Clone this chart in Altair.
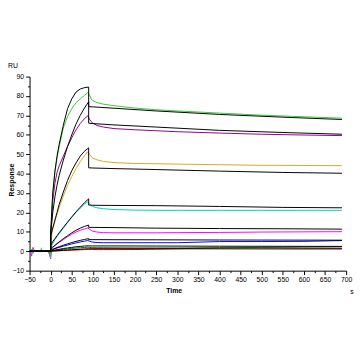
import altair as alt
import pandas as pd

# ---- time grids ----
T_FIT = [-50, 0, 0, 5, 10, 15, 20, 30, 40, 50, 60, 70, 80, 90, 90, 100, 150, 250, 400, 550, 690]
T_MEAS = [-48, -45, -42, -38, -24, -22, -20, -5, 0, 1, 3, 5, 10, 15, 20, 30, 40, 50, 60, 70, 80, 88,
          92, 96, 100, 110, 125, 150, 200, 250, 300, 400, 500, 600, 690]

# ---- fitted curves (black) ----
K1 = [0, 0, 10, 30, 41, 49, 55, 65, 73.5, 78.5, 82, 83.6, 84.3, 84.6, 74.5, 74.4, 73.7, 72.3, 70.5, 69.1, 67.9]
K2 = [0, 0, 10, 20, 28, 34, 39, 47, 54, 60, 65.5, 70, 73.8, 77, 66, 65.8, 65.1, 64, 62.3, 61.2, 60.3]
K3 = [0, 0, 8, 12, 16, 20, 24, 30.5, 36.5, 41.5, 45.5, 49, 51.5, 53.3, 43, 42.9, 42.6, 42.1, 41.3, 40.6, 40.2]
K4 = [0, 0, 3, 5, 6.5, 8, 9.5, 12.3, 15, 17.7, 20.3, 22.7, 25, 27, 23.8, 23.7, 23.6, 23.5, 23.1, 22.6, 22.4]
K5 = [0, 0, 1.2, 2.2, 3, 4, 4.8, 6.5, 8, 9.5, 10.8, 11.9, 12.8, 13.5, 12.3, 12.3, 12.2, 11.9, 11.7, 11.6, 11.4]
K6 = [0, 0, 0.5, 1, 1.5, 1.9, 2.3, 3.1, 3.8, 4.5, 5.1, 5.6, 6.1, 6.5, 6.0, 6.0, 5.95, 5.9, 5.8, 5.75, 5.7]
K7 = [0, 0, 0.2, 0.4, 0.6, 0.8, 1.0, 1.4, 1.7, 2.0, 2.3, 2.5, 2.7, 2.8, 2.75, 2.75, 2.75, 2.7, 2.6, 2.55, 2.5]
K8 = [0, 0, 0.1, 0.15, 0.2, 0.25, 0.3, 0.5, 0.65, 0.8, 0.9, 1.05, 1.2, 1.3, 1.3, 1.3, 1.3, 1.3, 1.25, 1.2, 1.2]

# ---- measured curves (coloured) ----
M_RED = [0, 0, 0, 0, 0, 0, 0, 0, 0, 0, 0.05, 0.1, 0.15, 0.2, 0.25, 0.35, 0.45, 0.55, 0.65, 0.75, 0.85, 0.9,
         0.9, 0.9, 0.9, 0.85, 0.85, 0.85, 0.9, 1.1, 1.3, 1.8, 1.8, 1.6, 1.5]
M_DKGREEN = [0, 0, 0, 0, 0, 0, 0, 0, -0.5, 0, 0.1, 0.2, 0.4, 0.6, 0.7, 1, 1.2, 1.5, 1.65, 1.8, 1.95, 2.1,
             2.0, 1.9, 1.85, 1.8, 1.8, 1.75, 1.7, 1.7, 1.7, 1.8, 2.0, 2.2, 2.3]
M_BLUE = [0, 0, 0, 0, 0, 0, 0, 0, -1, 0, 0.5, 0.8, 1.3, 1.7, 2, 2.6, 3.2, 3.8, 4.3, 4.8, 5.2, 5.5,
          5.2, 4.9, 4.7, 4.5, 4.4, 4.4, 4.4, 4.4, 4.4, 5.0, 5.0, 5.1, 5.5]
M_MAGENTA = [0, -2.5, 2, 0, 0, 0, 0, 0, -4, 0.5, 1.2, 2, 3, 3.8, 4.5, 6, 7.5, 8.8, 9.9, 10.8, 11.5, 12,
             11.3, 10.8, 10.3, 9.9, 9.6, 9.5, 9.5, 9.5, 9.6, 9.7, 9.9, 10, 10.1]
M_CYAN = [0, -1, 1, 0, 0, 0, 0, 0, -3.5, 1, 3, 4, 6, 7.6, 9, 12, 14.8, 17.5, 20, 22.2, 24.2, 25.5,
          24.5, 23.6, 23, 22.4, 21.9, 21.5, 21.2, 21.1, 21.1, 21.1, 21.1, 21.1, 21.1]
M_ORANGE = [0, 0, 0, 0, 0, 0, 0, 0, -2, 4, 9, 11.5, 15.5, 19, 22.5, 28.5, 34, 38.5, 42.5, 46.2, 49.2, 51.3,
            50, 48.8, 48, 47.1, 46.3, 45.7, 45.2, 45.1, 44.9, 44.6, 44.3, 44.2, 44.1]
M_PURPLE = [0, 0.5, 0, 0, 0, 0, 0, 0, -2, 6, 18, 26, 35, 40.5, 44, 49, 54, 58.5, 62.5, 65.8, 68.3, 69.8,
            68, 66.8, 66, 64.8, 64, 63.2, 62.6, 62.1, 61.6, 60.9, 60.3, 59.9, 59.6]
M_GREEN = [0, 1, -1, 0, 0, 1.5, 0, 0, -2, 8, 22, 30, 41, 48, 53.5, 63.5, 69.5, 73.5, 76.5, 78.5, 80.3, 81.8,
           80.5, 78.5, 77.6, 76.6, 75.8, 75, 73.8, 72.9, 72.3, 71.2, 70.1, 69.3, 68.6]

MEAS_NAMES = ["m1", "m2", "m3", "m4", "m5", "m6", "m7", "m8"]
MEAS_SERIES = [M_RED, M_DKGREEN, M_BLUE, M_MAGENTA, M_CYAN, M_ORANGE, M_PURPLE, M_GREEN]
MEAS_COLORS = ["#e00000", "#006400", "#0000ff", "#ff00ff", "#00cccc", "#daa520", "#8b008b", "#33cc33"]
FIT_NAMES = ["k1", "k2", "k3", "k4", "k5", "k6", "k7", "k8"]
FIT_SERIES = [K1, K2, K3, K4, K5, K6, K7, K8]

X_MAJOR = list(range(-50, 701, 50))
X_MINOR = list(range(-25, 700, 50))
Y_MAJOR = list(range(-10, 91, 10))
Y_MINOR = list(range(-5, 90, 10))

rows = []
for name, vals in zip(MEAS_NAMES, MEAS_SERIES):
    for i, (t, v) in enumerate(zip(T_MEAS, vals)):
        rows.append({"t": t, "v": v, "s": name, "i": i})
meas = pd.DataFrame(rows)
rows = []
for name, vals in zip(FIT_NAMES, FIT_SERIES):
    for i, (t, v) in enumerate(zip(T_FIT, vals)):
        rows.append({"t": t, "v": v, "s": name, "i": i})
fit = pd.DataFrame(rows)

FONT = "Liberation Sans"
xs = alt.Scale(domain=[-50, 700], nice=False, zero=False)
ys = alt.Scale(domain=[-10, 90], nice=False, zero=False)

ax_common = dict(labelFont=FONT, labelFontSize=7, labelColor="#000", domainColor="#000", tickColor="#000",
                 domainWidth=1, tickWidth=1, grid=False, titleFont=FONT, titleFontSize=7,
                 titleFontWeight="bold", titleColor="#000", labelFlush=False, labelOverlap=False)

measured = alt.Chart(meas).mark_line(strokeWidth=1, clip=True).encode(
    x=alt.X("t:Q", scale=xs, axis=alt.Axis(values=X_MAJOR, title="Time", orient="bottom", tickSize=4,
                                           labelPadding=1, titleX=147, titleY=20, titleAlign="center",
                                           titleBaseline="middle", **ax_common)),
    y=alt.Y("v:Q", scale=ys, axis=alt.Axis(values=Y_MAJOR, title="Response", orient="left", tickSize=4,
                                           labelPadding=2, titleX=-18, titleY=105, titleAngle=270,
                                           titleAlign="center", titleBaseline="middle", **ax_common)),
    color=alt.Color("s:N", scale=alt.Scale(domain=MEAS_NAMES, range=MEAS_COLORS), legend=None),
    order="i:Q",
)

fits = alt.Chart(fit).mark_line(strokeWidth=1, color="#000", clip=True).encode(
    x=alt.X("t:Q", scale=xs, axis=None),
    y=alt.Y("v:Q", scale=ys, axis=None),
    detail="s:N",
    order="i:Q",
)

minor = alt.Chart(fit).mark_line(opacity=0).encode(
    x=alt.X("t:Q", scale=xs, axis=alt.Axis(values=X_MINOR, labels=False, domain=False, tickSize=2,
                                           title=None, orient="bottom", tickColor="#000", grid=False)),
    y=alt.Y("v:Q", scale=ys, axis=alt.Axis(values=Y_MINOR, labels=False, domain=False, tickSize=2,
                                           title=None, orient="left", tickColor="#000", grid=False)),
    detail="s:N",
)

txt_ru = alt.Chart(pd.DataFrame({"l": ["RU"]})).mark_text(font=FONT, fontSize=7, color="#000",
                                                          align="left", baseline="middle").encode(
    x=alt.value(-22), y=alt.value(-11), text="l:N")
txt_s = alt.Chart(pd.DataFrame({"l": ["s"]})).mark_text(font=FONT, fontSize=7, color="#000",
                                                        align="center", baseline="middle").encode(
    x=alt.value(329), y=alt.value(220), text="l:N")

chart = alt.layer(measured, fits, minor, txt_ru, txt_s).resolve_axis(
    x="independent", y="independent"
).properties(
    width=323, height=198,
    autosize=alt.AutoSizeParams(type="none"),
    padding={"left": 22, "top": 67, "right": 8, "bottom": 30},
).configure_view(stroke=None)

chart.save("out.html", embed_options={"renderer": "svg", "actions": False})
